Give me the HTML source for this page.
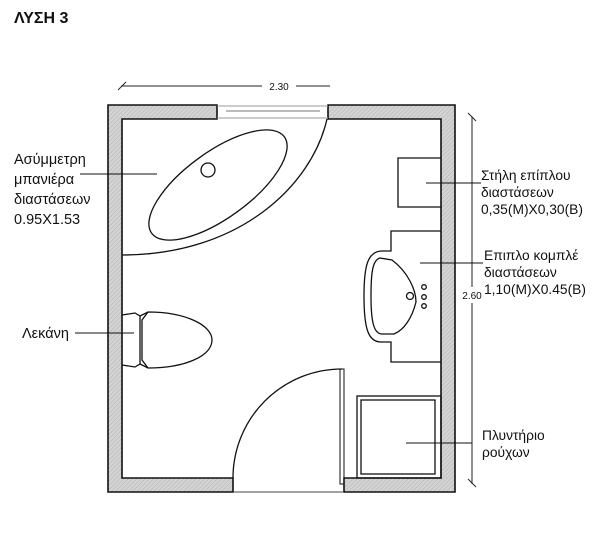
<!DOCTYPE html>
<html><head><meta charset="utf-8"><style>
html,body{margin:0;padding:0;background:#fff;}
svg{display:block;}
text{font-family:"Liberation Sans","DejaVu Sans",sans-serif;fill:#111;}
</style></head><body>
<svg width="600" height="541" viewBox="0 0 600 541" xmlns="http://www.w3.org/2000/svg">
<defs>
<pattern id="h" width="3" height="3" patternUnits="userSpaceOnUse" patternTransform="rotate(45)">
<rect width="3" height="3" fill="#d4d4d4"/><line x1="0" y1="0" x2="0" y2="3" stroke="#b0b0b0" stroke-width="1"/>
</pattern>
</defs>
<text x="14" y="23" font-size="16" font-weight="bold">ΛΥΣΗ 3</text>

<g fill="url(#h)" stroke="#111" stroke-width="1.6">
<path d="M108,492 L108,105 L217,105 L217,119 L122,119 L122,478 L233,478 L233,492 Z"/>
<path d="M328,105 L455,105 L455,492 L344,492 L344,478 L441,478 L441,119 L328,119 Z"/>
</g>
<g stroke="#999" stroke-width="1" fill="none">
<line x1="217" y1="106" x2="328" y2="106"/>
<line x1="217" y1="118" x2="328" y2="118"/>
<line x1="226" y1="111" x2="320" y2="111" stroke="#bbb" stroke-width="2"/>
</g>
<line x1="233" y1="492" x2="344" y2="492" stroke="#444" stroke-width="1"/>

<g stroke="#222" stroke-width="1" fill="none">
<line x1="121" y1="86" x2="262" y2="86"/>
<line x1="296" y1="86" x2="330" y2="86"/>
<line x1="118" y1="90" x2="126" y2="82"/>
<line x1="472" y1="117" x2="472" y2="287"/>
<line x1="472" y1="303" x2="472" y2="484"/>
<line x1="468" y1="113" x2="476" y2="121"/>
<line x1="468" y1="479" x2="476" y2="487"/>
</g>
<text x="279" y="90" font-size="10" text-anchor="middle">2.30</text>
<text x="472" y="299" font-size="10" text-anchor="middle">2.60</text>

<g stroke="#111" stroke-width="1.3" fill="none">
<path d="M327,119 C312,185 240,255 122,255"/>
<ellipse cx="218" cy="185" rx="82" ry="33" transform="rotate(-36 218 185)"/>
<circle cx="208" cy="170" r="7"/>
<path d="M122,315 L135,313 L140,316 L140,364 L135,367 L122,365"/>
<path d="M140,316 L148,312 C185,312 212,325 212,340 C212,356 185,368 148,368 L140,364"/>
<path d="M148,312 L142,320 L142,360 L148,368"/>
<path d="M441,158 L398,158 L398,207 L441,207"/>
<path d="M441,231 L391,231 L391,251 L381,251 C368,252 364,265 364,296 C364,328 368,342 381,342 L391,342 L391,362 L441,362"/>
<path d="M380,258 C372,260 371,275 371,297 C371,322 374,334 382,334 L394,334 C404,330 412,318 416,302 C416,290 408,272 392,260 Z"/>
<circle cx="410" cy="296" r="3.5"/>
<circle cx="424" cy="287" r="2.3"/>
<circle cx="424" cy="297" r="2.3"/>
<circle cx="424" cy="306" r="2.3"/>
<rect x="357" y="396" width="84" height="82"/>
<rect x="361" y="400" width="74" height="74"/>
<path d="M233,478 A109,109 0 0 1 342,369"/>
<path d="M340,369 L344,369 L344,484 L340,484 Z" stroke-width="1"/>
</g>

<g stroke="#111" stroke-width="1">
<line x1="80" y1="174" x2="157" y2="174"/>
<line x1="75" y1="333" x2="134" y2="333"/>
<line x1="426" y1="183" x2="481" y2="183"/>
<line x1="420" y1="263" x2="483" y2="263"/>
<line x1="406" y1="443" x2="472" y2="443"/>
</g>

<g font-size="14.5">
<text x="14" y="164">Ασύμμετρη</text>
<text x="14" y="184">μπανιέρα</text>
<text x="14" y="204">διαστάσεων</text>
<text x="14" y="224">0.95X1.53</text>
<text x="22" y="338">Λεκάνη</text>
</g>
<g font-size="13.8">
<text x="481" y="180">Στήλη επίπλου</text>
<text x="481" y="197">διαστάσεων</text>
<text x="481" y="214">0,35(Μ)Χ0,30(Β)</text>
<text x="484" y="260">Επιπλο κομπλέ</text>
<text x="484" y="277">διαστάσεων</text>
<text x="484" y="294">1,10(Μ)Χ0.45(Β)</text>
<text x="482" y="440">Πλυντήριο</text>
<text x="482" y="457">ρούχων</text>
</g>
</svg>
</body></html>
